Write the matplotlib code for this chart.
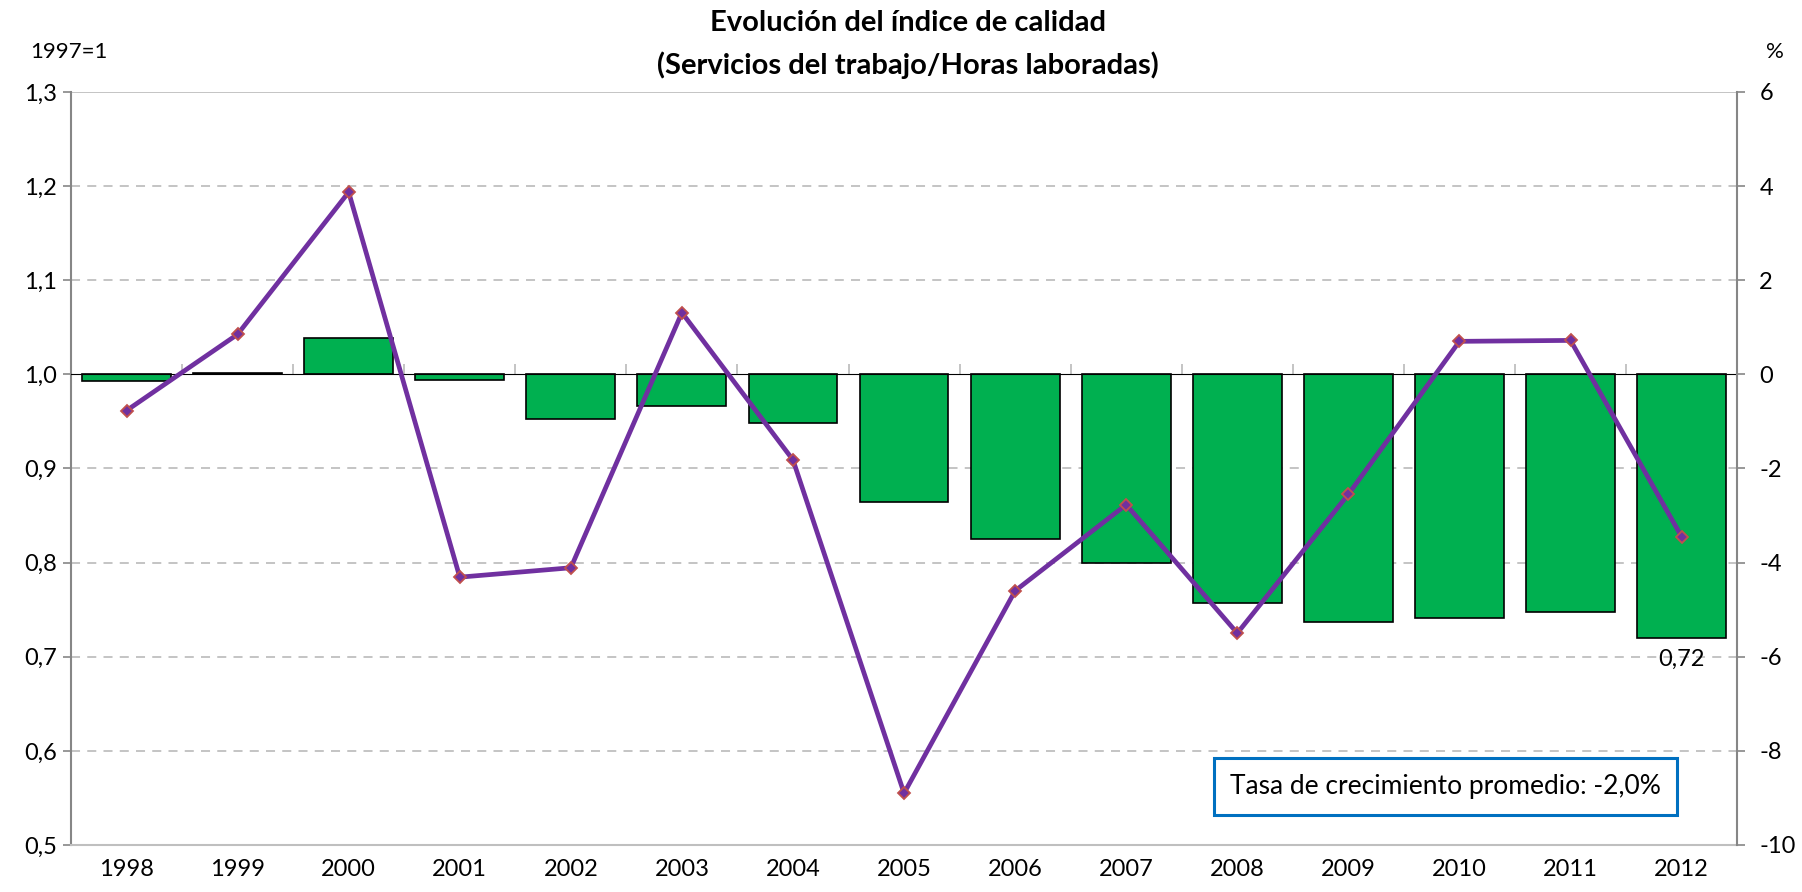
import numpy as np
import matplotlib.pyplot as plt

plt.rcParams['font.family'] = ['Lato', 'DejaVu Sans']

years = ['1998', '1999', '2000', '2001', '2002', '2003', '2004', '2005',
         '2006', '2007', '2008', '2009', '2010', '2011', '2012']
# indice de calidad (1997=1), eje izquierdo
indice = [0.993, 1.001, 1.039, 0.994, 0.953, 0.966, 0.948, 0.864,
          0.825, 0.800, 0.757, 0.737, 0.741, 0.747, 0.720]
# tasa de variacion anual (%), eje derecho
tasa = [-0.77, 0.85, 3.87, -4.31, -4.11, 1.31, -1.82, -8.90,
        -4.60, -2.77, -5.50, -2.55, 0.70, 0.72, -3.45]
left_ticks = [0.5, 0.6, 0.7, 0.8, 0.9, 1.0, 1.1, 1.2, 1.3]
right_ticks = [-10, -8, -6, -4, -2, 0, 2, 4, 6]

grid_c = '#BFBFBF'
axis_c = '#868686'

fig = plt.figure(figsize=(18.02, 8.92), dpi=100)
ax = fig.add_axes([0.0394, 0.0527, 0.9246, 0.8443])
x = np.arange(len(years))

ax.set_ylim(0.5, 1.3)
ax.set_xlim(-0.5, len(years) - 0.5)
ax.set_yticks(left_ticks)
ax.set_yticklabels([f'{v:.1f}'.replace('.', ',') for v in left_ticks], fontsize=17)
for v in left_ticks[1:-1]:
    if v != 1.0:
        ax.axhline(v, color=grid_c, lw=1.3, ls=(0, (5, 4)), zorder=0)
ax.axhline(1.3, color=grid_c, lw=1.3, zorder=0)

ax.bar(x, np.array(indice) - 1.0, bottom=1.0, width=0.8, color='#00B050',
       edgecolor='black', linewidth=1.2, zorder=2)

ax.set_xticks(x)
ax.set_xticklabels(years, fontsize=17)
ax.tick_params(axis='x', length=0, pad=10)
ax.tick_params(axis='y', length=6, color=axis_c, width=1.2, pad=4)
for s in ['top', 'right']:
    ax.spines[s].set_visible(False)
ax.spines['left'].set_color(axis_c)
ax.spines['left'].set_linewidth(1.5)
ax.spines['bottom'].set_color(grid_c)
ax.spines['bottom'].set_linewidth(1.5)

# eje de categorias cruzando en 1,0
sec = ax.secondary_xaxis((1.0 - 0.5) / 0.8)
sec.set_xticks(np.arange(0.5, len(years) - 1, 1.0))
sec.set_xticklabels([])
sec.tick_params(axis='x', direction='out', length=7, color=grid_c, width=1.3)
sec.spines['bottom'].set_color(axis_c)
sec.spines['bottom'].set_linewidth(2.2)
sec.set_zorder(3)

ax2 = ax.twinx()
ax2.set_ylim(-10, 6)
ax2.set_yticks(right_ticks)
ax2.set_yticklabels([str(v) for v in right_ticks], fontsize=17)
ax2.tick_params(axis='y', length=6, color=axis_c, width=1.2, pad=10)
for s in ['top', 'left', 'bottom']:
    ax2.spines[s].set_visible(False)
ax2.spines['right'].set_color(axis_c)
ax2.spines['right'].set_linewidth(1.5)
ax2.plot(x, tasa, color='#7030A0', lw=3.4, marker='D', markersize=6,
         markerfacecolor='#7030A0', markeredgecolor='#C0504D', markeredgewidth=1.3,
         zorder=5)

ax.text(x[-1], indice[-1] - 0.012, f'{indice[-1]:.2f}'.replace('.', ','),
        ha='center', va='top', fontsize=17)

ax.text(0.825, 0.078, 'Tasa de crecimiento promedio: -2,0%', transform=ax.transAxes,
        ha='center', va='center', fontsize=19,
        bbox=dict(boxstyle='square,pad=0.6', fc='white', ec='#0070C0', lw=2.2))

fig.text(0.504, 0.974, 'Evolución del índice de calidad', ha='center', va='center',
         fontsize=21, fontweight='bold')
fig.text(0.504, 0.9266, '(Servicios del trabajo/Horas laboradas)', ha='center',
         va='center', fontsize=21, fontweight='bold')
fig.text(0.038, 0.942, '1997=1', ha='center', va='center', fontsize=16)
fig.text(0.985, 0.942, '%', ha='center', va='center', fontsize=16)

fig.savefig('out.png', dpi=100)
